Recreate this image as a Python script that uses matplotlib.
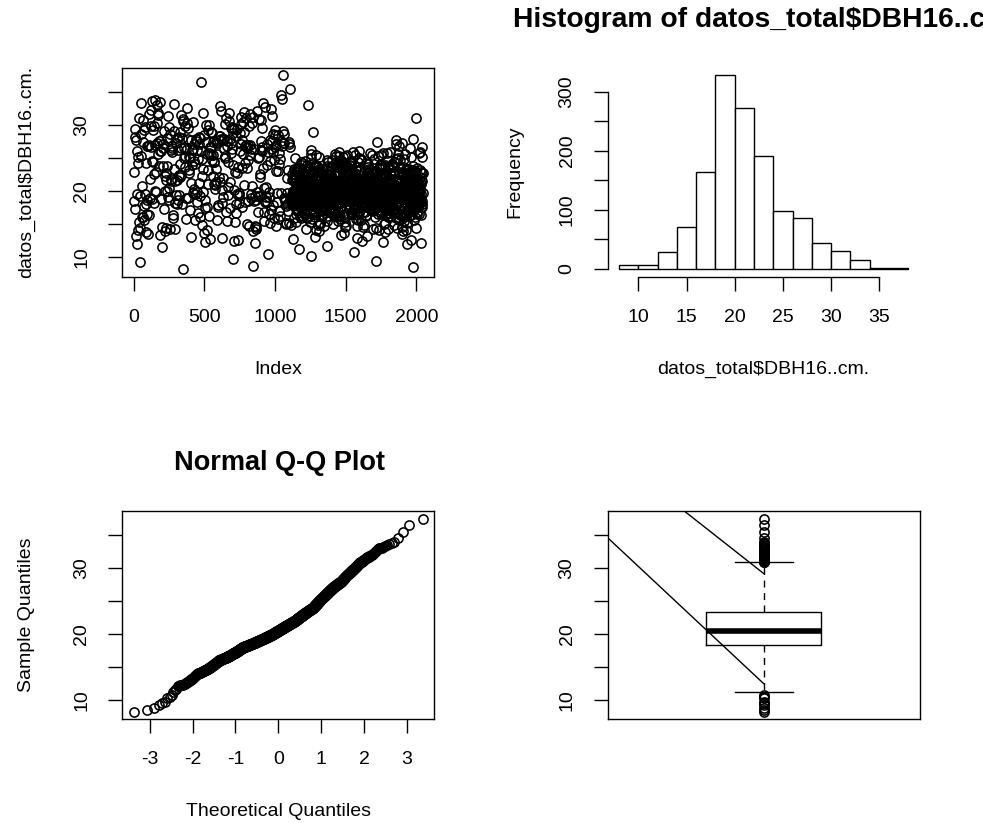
import numpy as np
import matplotlib
matplotlib.use("Agg")
import matplotlib.pyplot as plt
from statistics import NormalDist

plt.rcParams["font.family"] = ["Liberation Sans", "DejaVu Sans"]
plt.rcParams["axes.unicode_minus"] = False

# ---- data -------------------------------------------------------------
# histogram of DBH (cm), breaks every 2 cm from 8 to 38
bin_edges = [8, 10, 12, 14, 16, 18, 20, 22, 24, 26, 28, 30, 32, 34, 36, 38]
# trees measured in the first part of the file (index 1..1117, with gaps)
counts_first = [4, 2, 14, 31, 29, 63, 28, 36, 43, 77, 43, 29, 15, 2, 2]
# trees in the second part of the file (index 1118..2045, complete)
counts_second = [2, 4, 14, 40, 135, 265, 245, 155, 55, 10, 1, 1, 1, 0, 0]
n_index = 2045
first_end = 1117

scatter_xticks = [0, 500, 1000, 1500, 2000]
qq_xticks = [-3, -2, -1, 0, 1, 2, 3]
dbh_yticks = [10, 15, 20, 25, 30, 35]
dbh_ylabels = ["10", "", "20", "", "30", ""]
hist_xticks = [10, 15, 20, 25, 30, 35]
hist_yticks = [0, 50, 100, 150, 200, 250, 300]
hist_ylabels = ["0", "", "100", "", "200", "", "300"]

# the two straight lines drawn over the boxplot
line_a_x = [0.30, 1.0]
line_a_y = [41.2, 12.5]
line_b_x = [0.60, 1.0]
line_b_y = [43.0, 29.2]

var_name = "datos_total$DBH16..cm."


def values_from_counts(counts):
    vals = []
    for lo, hi, c in zip(bin_edges[:-1], bin_edges[1:], counts):
        for j in range(c):
            vals.append(lo + (hi - lo) * (j + 0.5) / c)
    return np.array(vals)


def mix_key(k):
    # integer hash used to interleave the sorted values along the index
    x = k & 0xFFFFFFFF
    x = (((x >> 16) ^ x) * 0x45D9F3B) & 0xFFFFFFFF
    x = (((x >> 16) ^ x) * 0x45D9F3B) & 0xFFFFFFFF
    return (x >> 16) ^ x


def spread_order(vals, offset):
    keys = np.array([mix_key(i + offset) for i in range(len(vals))])
    out = np.empty(len(vals))
    out[np.argsort(keys)] = np.sort(vals)
    return out


seg1 = spread_order(values_from_counts(counts_first), 1)
seg2 = spread_order(values_from_counts(counts_second), 5001)

dbh = np.full(n_index, np.nan)
pos1 = np.round(np.linspace(0, first_end - 1, len(seg1))).astype(int)
pos2 = np.round(np.linspace(first_end, n_index - 1, len(seg2))).astype(int)
dbh[pos1] = seg1
dbh[pos2] = seg2
index = np.arange(1, n_index + 1)
valid = dbh[~np.isnan(dbh)]


def rpad(lo, hi):
    d = (hi - lo) * 0.04
    return lo - d, hi + d


# ---- figure -----------------------------------------------------------
W, H = 983, 823
fig = plt.figure(figsize=(W / 100, H / 100), dpi=100)


def add_ax(l, t, r, b):
    return fig.add_axes([l / W, 1 - b / H, (r - l) / W, (b - t) / H])


FS = 14
TFS = 19.5
col_l = (122.3, 434.3)
col_r = (607.5, 919.7)
row_t = (67.7, 276.7)
row_b = (511.0, 719.3)
MS = 6.6
MEW = 1.15


def style(ax):
    ax.tick_params(direction="out", length=10, width=1.0, labelsize=FS, pad=13)
    for s in ax.spines.values():
        s.set_linewidth(1.0)
    for lab in ax.get_yticklabels():
        lab.set_rotation(90)
        lab.set_va("center")


def ftext(x, y, s, **kw):
    fig.text(x / W, 1 - y / H, s, ha="center", va="center", **kw)


# index plot
ax1 = add_ax(col_l[0], row_t[0], col_l[1], row_t[1])
ax1.plot(index, dbh, "o", mfc="none", mec="black", ms=MS, mew=MEW)
ax1.set_xlim(*rpad(1, n_index))
ax1.set_ylim(*rpad(np.nanmin(dbh), np.nanmax(dbh)))
ax1.set_xticks(scatter_xticks)
ax1.set_yticks(dbh_yticks)
ax1.set_yticklabels(dbh_ylabels)
style(ax1)
ftext(278, 369, "Index", fontsize=FS)
ftext(27, 172, var_name, fontsize=FS, rotation=90)

# histogram
ax2 = add_ax(col_r[0], row_t[0], col_r[1], row_t[1])
counts_total = np.array(counts_first) + np.array(counts_second)
ax2.hist(valid, bins=bin_edges, facecolor="white", edgecolor="black", linewidth=1.0)
ax2.set_xlim(*rpad(bin_edges[0], bin_edges[-1]))
ax2.set_ylim(*rpad(0, counts_total.max()))
ax2.set_xticks(hist_xticks)
ax2.set_yticks(hist_yticks)
ax2.set_yticklabels(hist_ylabels)
ax2.spines["top"].set_visible(False)
ax2.spines["right"].set_visible(False)
ax2.spines["bottom"].set_bounds(hist_xticks[0], hist_xticks[-1])
ax2.spines["left"].set_bounds(hist_yticks[0], hist_yticks[-1])
style(ax2)
ftext(766, 20, "Histogram of " + var_name, fontsize=20.3, fontweight="bold")
ftext(763.5, 369, var_name, fontsize=FS)
ftext(515, 172, "Frequency", fontsize=FS, rotation=90)

# normal Q-Q plot
ax3 = add_ax(col_l[0], row_b[0], col_l[1], row_b[1])
n = len(valid)
pp = (np.arange(1, n + 1) - 0.5) / n
theo = np.array([NormalDist().inv_cdf(p) for p in pp])
ax3.plot(theo, np.sort(valid), "o", mfc="none", mec="black", ms=MS, mew=MEW)
ax3.set_xlim(*rpad(theo.min(), theo.max()))
ax3.set_ylim(*rpad(valid.min(), valid.max()))
ax3.set_xticks(qq_xticks)
ax3.set_yticks(dbh_yticks)
ax3.set_yticklabels(dbh_ylabels)
style(ax3)
ftext(280, 463, "Normal Q-Q Plot", fontsize=TFS, fontweight="bold")
ftext(278, 811, "Theoretical Quantiles", fontsize=FS)
ftext(27, 615, "Sample Quantiles", fontsize=FS, rotation=90)

# boxplot
ax4 = add_ax(col_r[0], row_b[0], col_r[1], row_b[1])
ax4.boxplot(valid, positions=[1], widths=0.4, whis=1.5, capwidths=0.2,
            boxprops=dict(color="black", linewidth=1.0),
            medianprops=dict(color="black", linewidth=4.0, solid_capstyle="butt"),
            whiskerprops=dict(color="black", linewidth=1.0, linestyle=(0, (5, 4))),
            capprops=dict(color="black", linewidth=1.0),
            flierprops=dict(marker="o", mfc="none", mec="black", ms=MS, mew=MEW))
ax4.plot(line_a_x, line_a_y, color="black", linewidth=1.0)
ax4.plot(line_b_x, line_b_y, color="black", linewidth=1.0)
ax4.set_xlim(0.46, 1.54)
ax4.set_ylim(*rpad(valid.min(), valid.max()))
ax4.set_xticks([])
ax4.set_yticks(dbh_yticks)
ax4.set_yticklabels(dbh_ylabels)
style(ax4)

fig.savefig("out.png", dpi=100)
